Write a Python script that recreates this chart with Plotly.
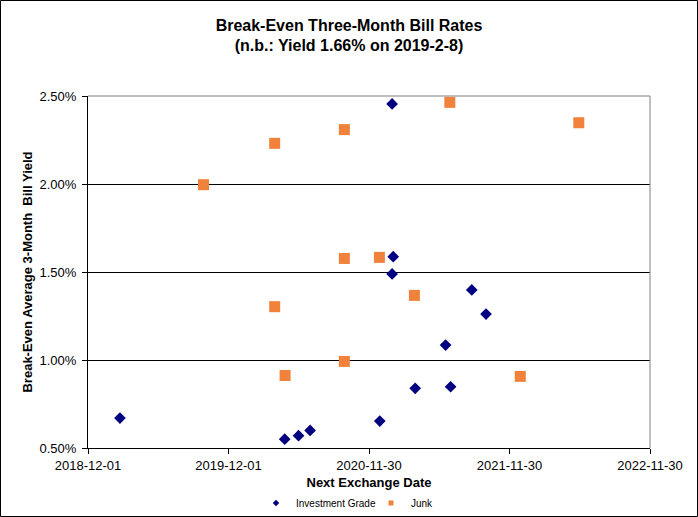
import plotly.graph_objects as go

# Investment Grade series
ig_dates = ["2019-02-22", "2020-04-25", "2020-05-31", "2020-06-30", "2021-01-29",
            "2021-02-01", "2021-01-29", "2021-08-24", "2021-09-30", "2021-06-17",
            "2021-03-30", "2021-06-30", "2020-12-28"]
ig_yield = [0.67, 0.55, 0.57, 0.60, 2.455, 1.587, 1.489, 1.398, 1.261, 1.085,
            0.839, 0.848, 0.653]

# Junk series
junk_dates = ["2019-09-27", "2020-03-30", "2020-03-30", "2020-04-26", "2020-09-27",
              "2020-09-27", "2020-09-27", "2020-12-27", "2021-03-28", "2021-06-28",
              "2022-05-29", "2021-12-28"]
junk_yield = [1.996, 2.231, 1.303, 0.912, 2.309, 1.577, 0.992, 1.583, 1.367, 2.464,
              2.348, 0.907]

x_ticks = ["2018-12-01", "2019-12-01", "2020-11-30", "2021-11-30", "2022-11-30"]
y_ticks = [0.5, 1.0, 1.5, 2.0, 2.5]

NAVY = "#000080"
ORANGE = "#F0823C"
FONT = "Arial, Liberation Sans, sans-serif"

fig = go.Figure()
fig.add_trace(go.Scatter(x=ig_dates, y=ig_yield, mode="markers", showlegend=False,
                         marker=dict(symbol="diamond", size=9, color=NAVY)))
fig.add_trace(go.Scatter(x=junk_dates, y=junk_yield, mode="markers", showlegend=False,
                         marker=dict(symbol="square", size=11, color=ORANGE)))
# legend entries (small symbols as in the reference)
fig.add_trace(go.Scatter(x=[None], y=[None], mode="markers", name="Investment Grade",
                         legend="legend",
                         marker=dict(symbol="diamond", size=5, color=NAVY)))
fig.add_trace(go.Scatter(x=[None], y=[None], mode="markers", name="Junk",
                         legend="legend2",
                         marker=dict(symbol="square", size=5, color=ORANGE)))

L, R, T, B = 88, 48, 96, 69
W, H = 698, 517
pw, ph = W - L - R, H - T - B

legend_y = (ph - (503 - T)) / ph
legend_common = dict(orientation="h", xanchor="left", yanchor="middle", y=legend_y,
                     font=dict(size=10, family=FONT), itemwidth=30,
                     bgcolor="rgba(0,0,0,0)")

fig.update_layout(
    width=W, height=H,
    margin=dict(l=L, r=R, t=T, b=B, autoexpand=False),
    paper_bgcolor="white", plot_bgcolor="white",
    font=dict(family=FONT, color="black", size=12),
    title=dict(text="<b>Break-Even Three-Month Bill Rates<br>(n.b.: Yield 1.66% on 2019-2-8)</b>",
               x=0.5, xanchor="center", y=1 - 30.5 / H, yanchor="middle",
               font=dict(size=16, family=FONT)),
    showlegend=True,
    legend=dict(x=(296 - 40 - L) / pw, **legend_common),
    legend2=dict(x=(411 - 40 - L) / pw, **legend_common),
    xaxis=dict(type="date", range=[x_ticks[0], x_ticks[-1]],
               tickvals=x_ticks, ticktext=x_ticks,
               showgrid=False, zeroline=False,
               showline=True, linecolor="black", linewidth=1,
               ticks="outside", ticklen=5, tickcolor="black",
               tickfont=dict(size=13, family=FONT),
               title=dict(text="<b>Next Exchange Date</b>", font=dict(size=13, family=FONT),
                          standoff=6)),
    yaxis=dict(range=[0.5, 2.5], tickvals=y_ticks,
               ticktext=[f"{v:.2f}%" for v in y_ticks],
               showgrid=True, gridcolor="black", gridwidth=1, zeroline=False,
               showline=True, linecolor="black", linewidth=1,
               ticks="outside", ticklen=5, tickcolor="black",
               ticklabelstandoff=3,
               tickfont=dict(size=13, family=FONT),
               title=dict(text="<b>Break-Even Average 3-Month  Bill Yield</b>",
                          font=dict(size=13, family=FONT), standoff=3)),
    shapes=[
        # gray top/right frame of plot area
        dict(type="line", xref="paper", yref="paper", x0=0, x1=1, y0=1, y1=1,
             line=dict(color="#808080", width=1)),
        dict(type="line", xref="paper", yref="paper", x0=1, x1=1, y0=0, y1=1,
             line=dict(color="#808080", width=1)),
        # outer chart border
        dict(type="rect", xref="paper", yref="paper",
             x0=(0.5 - L) / pw, x1=(W - 0.5 - L) / pw,
             y0=(ph - (H - 0.5 - T)) / ph, y1=(ph + T - 0.5) / ph,
             line=dict(color="black", width=1), fillcolor="rgba(0,0,0,0)"),
    ],
)

fig.write_html("out.html", config={"displayModeBar": False},
               post_script="document.body.style.margin='0';document.body.style.overflow='hidden';")
